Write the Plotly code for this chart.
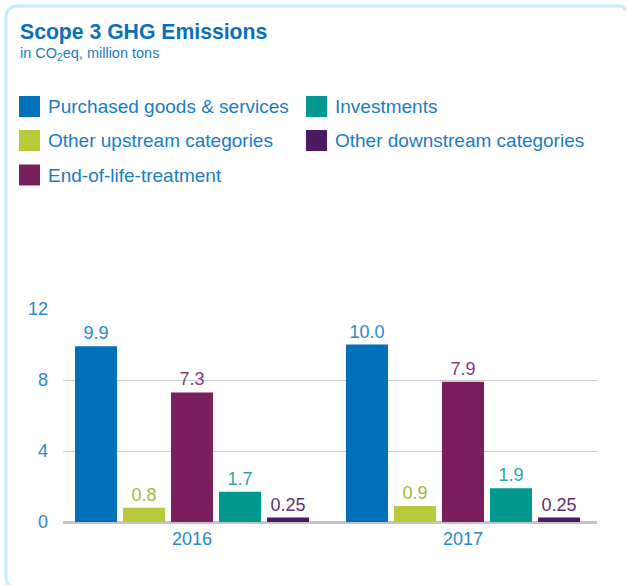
import plotly.graph_objects as go

# ---- data ----
years = ["2016", "2017"]
series_names = [
    "Purchased goods & services",
    "Other upstream categories",
    "End-of-life-treatment",
    "Investments",
    "Other downstream categories",
]
purchased = [9.9, 10.0]
other_upstream = [0.8, 0.9]
end_of_life = [7.3, 7.9]
investments = [1.7, 1.9]
other_downstream = [0.25, 0.25]
value_labels = [["9.9", "10.0"], ["0.8", "0.9"], ["7.3", "7.9"], ["1.7", "1.9"], ["0.25", "0.25"]]
y_ticks = [0, 4, 8, 12]

series_values = [purchased, other_upstream, end_of_life, investments, other_downstream]
bar_colors = ["#0070ba", "#b9c93a", "#7b1e5e", "#00998f", "#4b1a62"]
label_colors = ["#2b88cc", "#a6b63e", "#8c3a7c", "#2aa9a0", "#5a2f75"]

W, H = 627, 585
PL, PR, PT, PB = 63, 597, 309, 522  # plot area in pixels


def px(x):
    return (x - PL) / (PR - PL)


def py(y):
    return (PB - y) / (PB - PT)


FONT = "Liberation Sans, Arial, sans-serif"

fig = go.Figure()
for name, vals, col, lcol, labs in zip(series_names, series_values, bar_colors, label_colors, value_labels):
    fig.add_trace(go.Bar(
        x=years, y=vals, name=name, marker=dict(color=col, line=dict(width=0)),
        text=labs, textposition="outside", texttemplate="%{text}",
        textfont=dict(color=lcol, size=18, family=FONT),
        cliponaxis=False, showlegend=False,
    ))

shapes = []
annotations = []

# frame
frame_path = (
    f"M {px(625)},{py(11)} Q {px(625)},{py(6)} {px(619)},{py(6)} "
    f"L {px(18)},{py(6)} Q {px(6)},{py(6)} {px(6)},{py(18)} "
    f"L {px(6)},{py(577)} Q {px(6)},{py(584)} {px(11)},{py(587)}"
)
shapes.append(dict(type="path", xref="paper", yref="paper", path=frame_path,
                   line=dict(color="#c8ebfa", width=3)))

# title and subtitle
annotations.append(dict(xref="paper", yref="paper", x=px(17.5), y=py(32), xanchor="left", yanchor="middle",
                        text="<b>Scope 3 GHG Emissions</b>", showarrow=False,
                        font=dict(size=21.2, color="#0a70ba", family=FONT)))
annotations.append(dict(xref="paper", yref="paper", x=px(17.5), y=py(54), xanchor="left", yanchor="middle",
                        text="in CO<sub>2</sub>eq, million tons", showarrow=False,
                        font=dict(size=14.5, color="#1a7cc4", family=FONT)))

# manual legend (row-major order as in the reference)
legend_order = [0, 3, 1, 4, 2]
col_x = [19, 306]
row_y = [106.5, 140.5, 175]
for k, si in enumerate(legend_order):
    r, c = divmod(k, 2)
    x0 = col_x[c]
    yc = row_y[r]
    shapes.append(dict(type="rect", xref="paper", yref="paper",
                       x0=px(x0), x1=px(x0 + 21), y0=py(yc - 10.5), y1=py(yc + 10.5),
                       fillcolor=bar_colors[si], line=dict(width=0)))
    annotations.append(dict(xref="paper", yref="paper", x=px(x0 + 27), y=py(yc), xanchor="left",
                            yanchor="middle", text=series_names[si], showarrow=False,
                            font=dict(size=19, color="#1a7cc4", family=FONT)))

fig.update_layout(
    width=W, height=H,
    margin=dict(l=PL, r=W - PR, t=PT, b=H - PB, pad=0),
    paper_bgcolor="white", plot_bgcolor="white",
    barmode="group", bargap=0.1144, bargroupgap=0.125,
    shapes=shapes, annotations=annotations,
    font=dict(family=FONT),
    xaxis=dict(type="category", range=[-0.476, 1.4945], showgrid=False, showline=False,
               zeroline=False, ticks="", tickfont=dict(size=18, color="#2b88cc", family=FONT),
               ticklabelstandoff=4, fixedrange=True),
    yaxis=dict(range=[0, 12], tickvals=y_ticks, showgrid=True, gridcolor="#c9c9c9", gridwidth=1,
               zeroline=True, zerolinecolor="#c4c4c4", zerolinewidth=3, showline=False, ticks="",
               tickfont=dict(size=18, color="#2b88cc", family=FONT), ticklabelstandoff=14,
               fixedrange=True),
    showlegend=False,
)

fig.write_html("out.html", config={"displayModeBar": False},
               post_script="document.body.style.margin='0';document.body.style.overflow='hidden';")
